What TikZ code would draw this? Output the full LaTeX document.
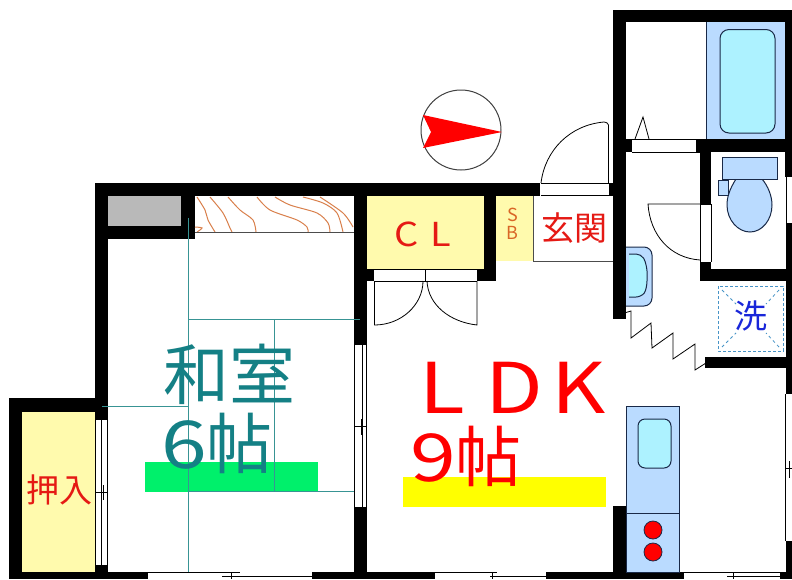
\documentclass[tikz,border=0pt]{standalone}
\usepackage{fontspec}
\newfontfamily\jpfont{Noto Sans CJK JP}
\usepackage{xcolor}
\usetikzlibrary{positioning}
\definecolor{tealtext}{rgb}{0.08,0.50,0.52}
\definecolor{tatami}{rgb}{0.22,0.58,0.58}
\definecolor{closet}{rgb}{1.0,0.98,0.68}
\definecolor{fixture}{rgb}{0.73,0.86,1.0}
\definecolor{basin}{rgb}{0.68,0.95,1.0}
\definecolor{outline}{rgb}{0.10,0.16,0.28}
\definecolor{grain}{rgb}{0.85,0.50,0.30}
\definecolor{matgreen}{rgb}{0.0,0.94,0.42}
\definecolor{matyellow}{rgb}{1.0,1.0,0.0}
\definecolor{washblue}{rgb}{0.28,0.58,0.78}
\definecolor{redtext}{rgb}{0.90,0.10,0.08}
\definecolor{sbtext}{rgb}{0.85,0.40,0.15}
\definecolor{washtext}{rgb}{0.10,0.15,0.85}
\tikzstyle{wall}=[fill=black]
\tikzstyle{thin}=[draw=black, line width=0.8pt]
\tikzstyle{plumb}=[fill=fixture, draw=outline, line width=1pt]
\tikzstyle{bowl}=[fill=basin, draw=outline, line width=1pt]
\tikzstyle{mat}=[draw=tatami, line width=1pt]
\tikzstyle{wood}=[draw=grain, line width=1pt]
\tikzstyle{lbl}=[inner sep=0pt, anchor=center]
\tikzstyle{lblw}=[inner sep=0pt, anchor=west]
\begin{document}
\begin{tikzpicture}[x=1pt,y=-1pt]
    \useasboundingbox (0,0) rectangle (792,579);
    \fill[white] (0,0) rectangle (792,579);

    % floors
    \fill[closet] (367,196) rectangle (484,269);
    \fill[closet] (496,196) rectangle (533,261);
    \fill[closet] (22,412) rectangle (95,572);
    \fill[gray!55] (108,196) rectangle (181,226);
    \fill[matgreen] (145,462) rectangle (318,492);
    \fill[matyellow] (403,477) rectangle (606,507);

    % walls
    \fill[wall] (613,10) rectangle (792,22);
    \fill[wall] (613,10) rectangle (626,319);
    \fill[wall] (785,10) rectangle (792,177);
    \fill[wall] (626,139) rectangle (632,152);
    \fill[wall] (696,139) rectangle (792,152);
    \fill[wall] (700,139) rectangle (711,204);
    \fill[wall] (700,262) rectangle (711,281);
    \fill[wall] (700,269) rectangle (792,281);
    \fill[wall] (786,223) rectangle (792,394);
    \fill[wall] (705,357) rectangle (792,368);
    \fill[wall] (786,541) rectangle (792,579);
    \fill[wall] (95,183) rectangle (540,196);
    \fill[wall] (609,183) rectangle (626,196);
    \fill[wall] (95,183) rectangle (108,420);
    \fill[wall] (181,196) rectangle (195,239);
    \fill[wall] (108,226) rectangle (195,239);
    \fill[wall] (354,183) rectangle (367,345);
    \fill[wall] (354,269) rectangle (374,281);
    \fill[wall] (477,269) rectangle (496,281);
    \fill[wall] (484,196) rectangle (496,281);
    \fill[wall] (9,398) rectangle (108,412);
    \fill[wall] (9,398) rectangle (22,579);
    \fill[wall] (95,565) rectangle (108,579);
    \fill[wall] (354,507) rectangle (367,579);
    \fill[wall] (613,506) rectangle (626,579);
    \fill[wall] (9,572) rectangle (148,579);
    \fill[wall] (312,572) rectangle (435,579);
    \fill[wall] (546,572) rectangle (684,579);
    \fill[wall] (780,572) rectangle (792,579);

    % closet top and shelf
    \draw[wood] plot[smooth] coordinates {(197,197) (205,210) (208,220) (215,232)};
    \draw[wood] plot[smooth] coordinates {(210,197) (223,213) (230,228) (232,232)};
    \draw[wood] plot[smooth] coordinates {(228,197) (240,210) (253,220) (256,232)};
    \draw[wood] plot[smooth] coordinates {(257,197) (270,210) (297,220) (307,227) (308,232)};
    \draw[wood] plot[smooth] coordinates {(275,197) (290,205) (317,213) (328,223) (330,232)};
    \draw[wood] plot[smooth] coordinates {(303,197) (323,203) (337,213) (343,232)};
    \draw[wood] plot[smooth] coordinates {(320,197) (343,213) (353,227)};
    \draw[wood] plot[smooth] coordinates {(195,227) (202,228) (197,232)};
    \draw[black!70, line width=1pt] (195,232) -- (354,232);

    % tatami
    \draw[mat] (188,218) -- (188,572);
    \draw[mat] (188,319) -- (360,319);
    \draw[mat] (274,319) -- (274,491);
    \draw[mat] (102,406) -- (188,406);
    \draw[mat] (188,491) -- (354,491);

    % windows
    \draw[thin] (95.5,420) -- (95.5,565) (101,420) -- (101,565) (107.5,420) -- (107.5,565);
    \draw[thin] (96,492) -- (107,492) (103,485) -- (103,500);
    \draw[thin] (354.5,345) -- (354.5,507) (362,345) -- (362,507) (366.5,345) -- (366.5,507);
    \draw[thin] (355,426) -- (366,426) (361.5,419) -- (361.5,435);
    \draw[thin] (148,572.5) -- (240,572.5) (231,572) -- (231,579) (222,576.5) -- (312,576.5);
    \draw[thin] (435,572.5) -- (497,572.5) (492,572) -- (492,579) (490,576.5) -- (546,576.5);
    \draw[thin] (684,572.5) -- (780,572.5) (733,572) -- (733,579) (727,576.5) -- (780,576.5);
    \draw[thin] (786,177) -- (786,223);
    \draw[thin] (785.5,394) -- (785.5,541) (786,468) -- (792,468) (789,461) -- (789,478);

    % doors
    \draw[thin] (374,269.5) -- (477,269.5) (374,281) -- (477,281) (425,269.5) -- (425,281);
    \draw[thin] (374.5,281) -- (374.5,325) .. controls (401,325) and (423,305) .. (423,281);
    \draw[thin] (477,281) -- (477,325) .. controls (450,322) and (428,305) .. (427,281);
    \draw[thin] (541,183.5) -- (609,183.5) (541,195) -- (609,195);
    \draw[thin] (608.5,183) -- (608.5,125) .. controls (608,123) and (606,122) .. (604,122)
        .. controls (570,125) and (545,150) .. (541,183);
    \draw[thin] (632,139.5) -- (696,139.5) (632,152) -- (700,152);
    \draw[thin] (635,139) -- (643,117) -- (649,139);
    \draw[thin] (700,204) -- (648,204) .. controls (650,235) and (670,258) .. (700,260);
    \draw[thin] (700.5,204) -- (700.5,262) (711,204) -- (711,262) (700,204) -- (711,204);
    \draw[thin] (626,312.5) -- (631,311) -- (631,338) -- (651,323) -- (652,348) -- (673,333)
        -- (673,359) -- (695,344) -- (695,370) -- (706,363);

    % entrance
    \draw[black!70, line width=1pt] (533,261.5) -- (613,261.5) (533,196) -- (533,261.5);

    % bath
    \fill[fixture] (706,22) rectangle (785,139);
    \draw[outline, line width=1pt] (706,22) -- (706,139);
    \draw[bowl, rounded corners=9pt] (720,29.5) rectangle (775,133);

    % toilet
    \draw[plumb] (736,179) .. controls (729,190) and (727,198) .. (727,205)
        .. controls (727,220) and (738,232) .. (750,232)
        .. controls (762,232) and (772,220) .. (772,205)
        .. controls (772,196) and (768,186) .. (762,179) -- cycle;
    \draw[plumb] (722,157) rectangle (777,179);
    \draw[plumb] (718,180) rectangle (728,195);

    % wash basin
    \draw[plumb, rounded corners=8pt] (626,247) -- (652,247) -- (652,306) -- (626,306);
    \draw[bowl, rounded corners=5pt] (629,254) -- (641,254) .. controls (646,262) and (647,270) .. (647,276)
        .. controls (647,284) and (646,291) .. (641,297) -- (629,297);

    % washer
    \draw[washblue, line width=1pt, densely dashed] (718,286) rectangle (783,351);
    \draw[washblue, line width=0.8pt, dashed] (722,290) -- (736,304) (779,290) -- (766,304)
        (722,347) -- (736,333) (779,347) -- (766,333);

    % kitchen
    \draw[plumb] (626,406) rectangle (679,572);
    \draw[outline, line width=1pt] (626,513) -- (679,513);
    \draw[bowl, rounded corners=7pt] (638,419) rectangle (671,468);
    \fill[red] (653,530) circle (9) (653,552) circle (9);
    \draw[outline, line width=0.8pt] (653,530) circle (9) (653,552) circle (9);

    % compass
    \draw[black!75, line width=1pt] (461,130) circle (40);
    \fill[red] (423,115) -- (502,132) -- (423,148) -- (431,132) -- cycle;

    % labels
    \node[lbl, text=tealtext, font=\jpfont\fontsize{66}{66}\selectfont] (washitsu) at (229,374) {和室};
    \node[lblw, text=tealtext, font=\jpfont\fontsize{66}{66}\selectfont] (washitsusize) at (161,443) {{\addfontfeature{FakeStretch=1.25}6}帖};
    \node[lblw, text=red, font=\jpfont\fontsize{70}{70}\selectfont\addfontfeature{FakeStretch=1.2,LetterSpace=30}] (ldk) at (419,388) {LD\kern8pt K};
    \node[lblw, text=red, font=\jpfont\fontsize{66}{66}\selectfont] (ldksize) at (410,456) {{\addfontfeature{FakeStretch=1.25}9}帖};
    \node[lbl, text=redtext, font=\jpfont\fontsize{33}{33}\selectfont] (oshiire) at (59,490) {押入};
    \node[lbl, text=redtext, font=\jpfont\fontsize{33}{33}\selectfont] (genkan) at (574,228) {玄関};
    \node[lblw, text=redtext, font=\jpfont\fontsize{33}{33}\selectfont\addfontfeature{FakeStretch=1.15,LetterSpace=36}] (cl) at (394,234) {CL};
    \node[lbl, text=sbtext, font=\jpfont\fontsize{18}{18}\selectfont] (sbs) at (512.5,215) {S};
    \node[lbl, text=sbtext, font=\jpfont\fontsize{18}{18}\selectfont] (sbb) at (512.5,233) {B};
    \node[lbl, text=washtext, font=\jpfont\fontsize{33}{33}\selectfont] (wash) at (751,316) {洗};
\end{tikzpicture}
\end{document}
